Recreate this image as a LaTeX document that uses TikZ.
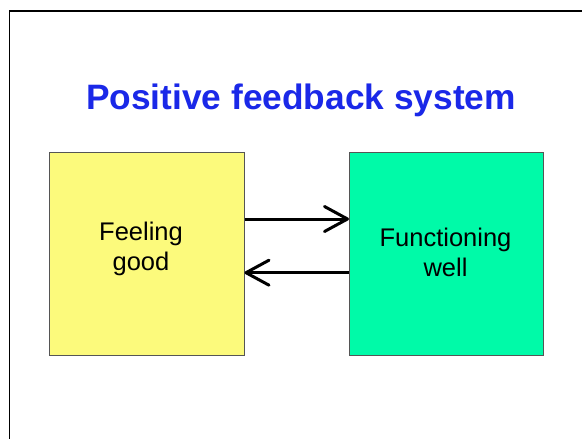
\documentclass[tikz,border=0pt]{standalone}
\usepackage{fontspec}
\setmainfont{Liberation Sans}
\usetikzlibrary{arrows.meta}
\definecolor{titleblue}{RGB}{26,40,232}
\definecolor{boxyellow}{RGB}{252,250,124}
\definecolor{boxgreen}{RGB}{0,250,168}
\definecolor{boxedge}{RGB}{85,85,85}
\tikzset{
  stage/.style={draw=boxedge, line width=1pt, inner sep=0pt},
  boxtext/.style={font=\fontsize{25.5}{30}\selectfont, align=center, inner sep=0pt, text=black},
  flow/.style={line width=3pt, -{Straight Barb[length=23pt,width=25pt,line width=3pt,round]}},
}
\begin{document}
\begin{tikzpicture}[x=1pt,y=-1pt]
\useasboundingbox (0,0) rectangle (582,439);
\fill[white] (0,0) rectangle (582,439);
% slide frame
\draw[line width=1.8pt, black] (9.5,450) -- (9.5,11) -- (590,11);
% title
\node[font=\bfseries\fontsize{35.3}{40}\selectfont, text=titleblue, anchor=base] (title) at (301,109) {Positive feedback system};
% boxes
\node[stage, fill=boxyellow, minimum width=194.5pt, minimum height=203pt, anchor=north west] (feel) at (49,152) {};
\node[stage, fill=boxgreen, minimum width=194pt, minimum height=203pt, anchor=north west] (func) at (349,152) {};
% texts
\node[boxtext] (feeltext) at (141,248.5) {Feeling\\good};
\node[boxtext] (functext) at (445.5,252.5) {Functioning\\well};
% arrows
\draw[flow] (feel.east |- 0,219) -- (func.west |- 0,219);
\draw[flow] (func.west |- 0,272.7) -- (feel.east |- 0,272.7);
\end{tikzpicture}
\end{document}
